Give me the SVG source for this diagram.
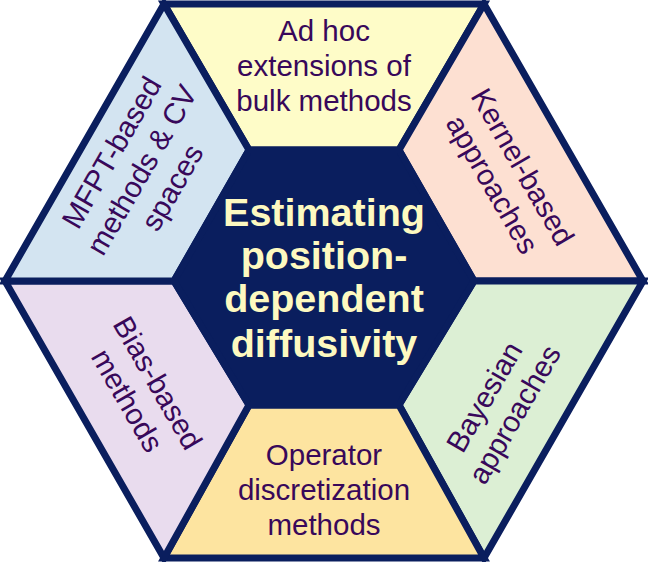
<svg xmlns="http://www.w3.org/2000/svg" width="648" height="562" viewBox="0 0 648 562">
<style>
.seg{stroke:#0a1e5e;stroke-width:7;stroke-linejoin:miter}
.lbl{font-family:"Liberation Sans",Arial,sans-serif;font-size:29.5px;fill:#38085a;text-anchor:middle}
.ctr{font-family:"Liberation Sans",Arial,sans-serif;font-size:39.5px;font-weight:bold;fill:#fdf9c0;text-anchor:middle}
</style>
<rect width="648" height="562" fill="#ffffff"/>
<g id="top">
<polygon class="seg" fill="#fefcc8" points="164,4 484,4 399,150 249,150"/>
<text class="lbl"><tspan x="324" y="41">Ad hoc</tspan><tspan x="324" y="76">extensions of</tspan><tspan x="324" y="111">bulk methods</tspan></text>
</g>
<g id="upper-right">
<polygon class="seg" fill="#fde0d2" points="484,4 643,281 474,281 399,150"/>
<text class="lbl" transform="translate(507,176) rotate(60)"><tspan x="0" y="-8">Kernel-based</tspan><tspan x="0" y="27">approaches</tspan></text>
</g>
<g id="lower-right">
<polygon class="seg" fill="#dcefd4" points="643,281 484,558 399,405 474,281"/>
<text class="lbl" transform="translate(500,406) rotate(-60)"><tspan x="0" y="-8">Bayesian</tspan><tspan x="0" y="27">approaches</tspan></text>
</g>
<g id="bottom">
<polygon class="seg" fill="#fde4a0" points="484,558 164,558 249,405 399,405"/>
<text class="lbl"><tspan x="324" y="465">Operator</tspan><tspan x="324" y="500">discretization</tspan><tspan x="324" y="535">methods</tspan></text>
</g>
<g id="lower-left">
<polygon class="seg" fill="#e9dcee" points="164,558 5,281 174,281 249,405"/>
<text class="lbl" transform="translate(142,392) rotate(60)"><tspan x="0" y="-8">Bias-based</tspan><tspan x="0" y="27">methods</tspan></text>
</g>
<g id="upper-left">
<polygon class="seg" fill="#d3e4f1" points="5,281 164,4 249,150 174,281"/>
<text class="lbl" transform="translate(142,170) rotate(-60)"><tspan x="0" y="-25">MFPT-based</tspan><tspan x="0" y="10">methods &amp; CV</tspan><tspan x="0" y="45">spaces</tspan></text>
</g>
<g id="center">
<polygon fill="#0a1e5e" stroke="#0a1e5e" stroke-width="7" points="174,281 249,150 399,150 474,281 399,405 249,405"/>
<text class="ctr"><tspan x="324" y="226">Estimating</tspan><tspan x="324" y="269">position-</tspan><tspan x="324" y="312">dependent</tspan><tspan x="324" y="357">diffusivity</tspan></text>
</g>
<g id="connectors"></g>
</svg>
